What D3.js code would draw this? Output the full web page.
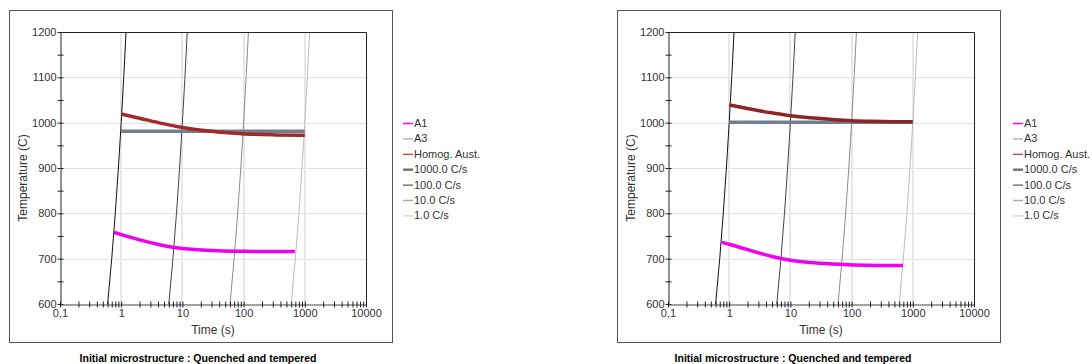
<!DOCTYPE html>
<html>
<head>
<meta charset="utf-8">
<script src="https://cdn.jsdelivr.net/npm/d3@7"></script>
<style>
  body { margin: 0; background: #fff; }
  text { font-family: "Liberation Sans", Arial, sans-serif; }
</style>
</head>
<body>
<svg id="chart" width="1092" height="364"></svg>
<script>
// ---- data ----
var timeTicks = [0.1, 1, 10, 100, 1000, 10000];
var timeTickLabels = ["0,1", "1", "10", "100", "1000", "10000"];
var tempTicks = [600, 700, 800, 900, 1000, 1100, 1200];
var legendNames = ["A1", "A3", "Homog. Aust.", "1000.0 C/s", "100.0 C/s", "10.0 C/s", "1.0 C/s"];
var titleText = "Initial microstructure : Quenched and tempered";

// heating lines (same in both panels)
var heatTemps = [600, 700, 800, 900, 1000, 1100, 1200];
var heat1000Time = [0.6, 0.7, 0.8, 0.9, 1.0, 1.1, 1.2];
var heat100Time = [6, 7, 8, 9, 10, 11, 12];
var heat10Time = [60, 70, 80, 90, 100, 110, 120];
var heat1Time = [600, 700, 800, 900, 1000, 1100, 1200];

// left panel
var leftA1Time = [0.76, 1, 2, 5, 10, 20, 50, 100, 300, 690];
var leftA1Temp = [758, 753, 741, 728, 722, 719, 717, 716, 716, 716];
var leftA3Time = [1, 1000];
var leftA3Temp = [981, 981];
var leftAustTime = [1, 2, 5, 10, 20, 50, 100, 300, 1000];
var leftAustTemp = [1019, 1010, 997, 989, 983, 978, 975, 973, 972];

// right panel
var rightA1Time = [0.75, 1, 2, 5, 10, 20, 50, 100, 300, 690];
var rightA1Temp = [736, 732, 720, 704, 696, 691, 688, 686, 685, 685];
var rightA3Time = [1, 1000];
var rightA3Temp = [1001, 1001];
var rightAustTime = [1, 2, 5, 10, 20, 50, 100, 200, 500, 1000];
var rightAustTemp = [1039, 1031, 1021, 1015, 1011, 1007, 1004, 1003, 1002, 1002];

var svg = d3.select("#chart");

var zip = function(ts, vs) {
  return ts.map(function(t, i) { return {t: t, v: vs[i]}; });
};

var drawPanel = function(ox, cfg, id) {
  var g = svg.append("g").attr("transform", "translate(" + ox + ",0)");

  // outer frame
  g.append("rect").attr("x", 9.5).attr("y", 10.5).attr("width", 383).attr("height", 332)
    .attr("fill", "none").attr("stroke", "#555").attr("stroke-width", 1);

  var left = 60, right = 366, top = 32, bottom = 304;
  var x = d3.scaleLog().domain([0.1, 10000]).range([left, right]);
  var y = d3.scaleLinear().domain([600, 1200]).range([bottom, top]);

  // grid
  g.append("g").selectAll("line").data(tempTicks.slice(1, -1)).enter().append("line")
    .attr("x1", left).attr("x2", right)
    .attr("y1", function(d) { return Math.round(y(d)) + 0.5; })
    .attr("y2", function(d) { return Math.round(y(d)) + 0.5; })
    .attr("stroke", "#e2e2e2");
  g.append("g").selectAll("line").data(timeTicks.slice(1, -1)).enter().append("line")
    .attr("y1", top).attr("y2", bottom)
    .attr("x1", function(d) { return Math.round(x(d)); })
    .attr("x2", function(d) { return Math.round(x(d)); })
    .attr("stroke", "#e8e8e8").attr("stroke-width", 2);

  g.append("clipPath").attr("id", "clip" + id).append("rect")
    .attr("x", left).attr("y", top).attr("width", right - left).attr("height", bottom - top);

  var line = d3.line().x(function(d) { return x(d.t); }).y(function(d) { return y(d.v); })
    .curve(d3.curveBasis);
  var straight = d3.line().x(function(d) { return x(d.t); }).y(function(d) { return y(d.v); });
  var plot = g.append("g").attr("clip-path", "url(#clip" + id + ")");

  // heating lines
  var heats = [
    {ts: heat1000Time, c: "#111"},
    {ts: heat100Time, c: "#444"},
    {ts: heat10Time, c: "#8a8a8a"},
    {ts: heat1Time, c: "#bdbdbd"}
  ];
  heats.forEach(function(h) {
    plot.append("path").datum(zip(h.ts, heatTemps))
      .attr("d", straight).attr("fill", "none").attr("stroke", h.c).attr("stroke-width", 1);
  });

  // series
  plot.append("path").datum(zip(cfg.a3t, cfg.a3v)).attr("d", straight)
    .attr("fill", "none").attr("stroke", "#6f7f8f").attr("stroke-width", 3.5);
  plot.append("path").datum(zip(cfg.aut, cfg.auv)).attr("d", line)
    .attr("fill", "none").attr("stroke", cfg.brown).attr("stroke-width", 3.5);
  plot.append("path").datum(zip(cfg.a1t, cfg.a1v)).attr("d", line)
    .attr("fill", "none").attr("stroke", "#f000f0").attr("stroke-width", 3.5);

  // frame top/right
  g.append("path").attr("d", "M" + left + "," + (top + 0.5) + "H" + (right + 0.5) + "V" + bottom)
    .attr("fill", "none").attr("stroke", "#222");

  // y axis
  var yAxis = d3.axisLeft(y).tickValues(d3.range(600, 1201, 50))
    .tickFormat(function(d) { return d % 100 === 0 ? d : ""; })
    .tickSizeInner(3).tickSizeOuter(0).tickPadding(1);
  var ya = g.append("g").attr("transform", "translate(" + (left + 0.5) + ",0)").call(yAxis);
  ya.select(".domain").attr("stroke", "#222");
  ya.selectAll(".tick line").attr("x2", -3).attr("x1", 3).attr("stroke", "#222");
  ya.selectAll(".tick text").attr("font-size", 11).attr("fill", "#333")
    .attr("font-family", "Liberation Sans, Arial, sans-serif");

  // x axis
  var minors = [];
  timeTicks.slice(0, -1).forEach(function(d) {
    for (var k = 1; k < 10; k++) minors.push(d * k);
  });
  minors.push(10000);
  var xAxis = d3.axisBottom(x).tickValues(minors)
    .tickFormat(function(d) {
      var i = timeTicks.indexOf(d);
      return i >= 0 ? timeTickLabels[i] : "";
    })
    .tickSizeInner(3).tickSizeOuter(0).tickPadding(2);
  var xa = g.append("g").attr("transform", "translate(0," + (bottom + 0.5) + ")").call(xAxis);
  xa.select(".domain").attr("stroke", "#444");
  xa.selectAll(".tick line").attr("y1", -3).attr("y2", 3).attr("stroke", "#222");
  xa.selectAll(".tick text").attr("font-size", 11).attr("fill", "#333")
    .attr("font-family", "Liberation Sans, Arial, sans-serif");

  // axis titles
  g.append("text").attr("x", (left + right) / 2).attr("y", 334).attr("text-anchor", "middle")
    .attr("font-size", 12).attr("fill", "#333").text("Time (s)");
  g.append("text").attr("transform", "translate(27,178) rotate(-90)").attr("text-anchor", "middle")
    .attr("font-size", 12).attr("fill", "#333").text("Temperature (C)");

  // bottom title
  g.append("text").attr("x", cfg.titleX).attr("y", 362).attr("text-anchor", "middle")
    .attr("font-family", "'Liberation Sans Narrow', 'Liberation Sans', Arial, sans-serif")
    .attr("font-weight", "bold").attr("font-size", 10.5).attr("fill", "#000").text(titleText);

  // legend
  var legendStyles = [
    {c: "#ff00ff", w: 1.5}, {c: "#a9b8cc", w: 1.5}, {c: "#c83030", w: 1.2},
    {c: "#777", w: 2.5}, {c: "#333", w: 1}, {c: "#aaa", w: 1.5}, {c: "#d8d8d8", w: 1.5}
  ];
  var lg = g.append("g").attr("transform", "translate(" + cfg.legendX + "," + cfg.legendY + ")");
  var rows = lg.selectAll("g").data(legendNames).enter().append("g")
    .attr("transform", function(d, i) { return "translate(0," + (i * 15.4) + ")"; });
  rows.append("line").attr("x1", 0).attr("x2", 10).attr("y1", 0.5).attr("y2", 0.5)
    .attr("stroke", function(d, i) { return legendStyles[i].c; })
    .attr("stroke-width", function(d, i) { return legendStyles[i].w; });
  rows.append("text").attr("x", 11).attr("y", 4).attr("font-size", 11).attr("fill", "#333")
    .text(function(d) { return d; });
};

drawPanel(0, {
  a1t: leftA1Time, a1v: leftA1Temp, a3t: leftA3Time, a3v: leftA3Temp,
  aut: leftAustTime, auv: leftAustTemp, brown: "#a32a2a",
  titleX: 198, legendX: 403, legendY: 123
}, "L");
drawPanel(608, {
  a1t: rightA1Time, a1v: rightA1Temp, a3t: rightA3Time, a3v: rightA3Temp,
  aut: rightAustTime, auv: rightAustTemp, brown: "#8e2424",
  titleX: 185, legendX: 405, legendY: 123
}, "R");
</script>
</body>
</html>
